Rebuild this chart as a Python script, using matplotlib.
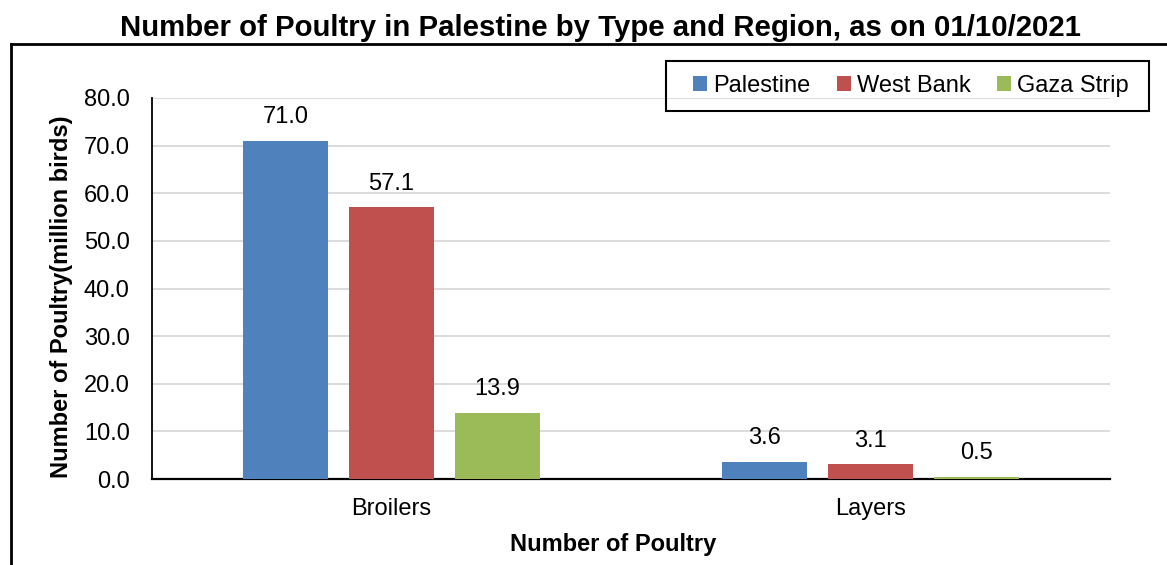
import numpy as np
import matplotlib.pyplot as plt
from matplotlib.lines import Line2D
from matplotlib.patches import Rectangle

categories = ["Broilers", "Layers"]
regions = ["Palestine", "West Bank", "Gaza Strip"]
palestine = [71.0, 3.6]
west_bank = [57.1, 3.1]
gaza_strip = [13.9, 0.5]
colors = ["#4F81BD", "#C0504D", "#9BBB59"]

plt.rcParams["font.family"] = ["Liberation Sans", "DejaVu Sans"]
FS = 17
W, H = 1167, 565

fig = plt.figure(figsize=(W / 100, H / 100), dpi=100)
ax = fig.add_axes([152 / W, 1 - 479 / H, 958 / W, 381 / H])

x = np.arange(len(categories))
width = 0.177
step = 0.221
for i, (vals, name) in enumerate(zip([palestine, west_bank, gaza_strip], regions)):
    bars = ax.bar(x + (i - 1) * step, vals, width, color=colors[i], label=name, zorder=3)
    for b, v in zip(bars, vals):
        ax.annotate(f"{v:.1f}", (b.get_x() + b.get_width() / 2, v), xytext=(0, 9),
                    textcoords="offset points", ha="center", va="bottom", fontsize=FS)

ax.set_xlim(-0.5, 1.5)
ax.set_ylim(0, 80)
ax.set_yticks(np.arange(0, 81, 10))
ax.set_yticklabels([f"{t:.1f}" for t in np.arange(0, 81, 10)], fontsize=FS)
ax.set_xticks(x)
ax.set_xticklabels(categories, fontsize=FS)
ax.tick_params(axis="y", length=0, pad=16)
ax.tick_params(axis="x", length=0, pad=14)
ax.grid(axis="y", color="#D9D9D9", linewidth=1.3, zorder=0)
for s in ["top", "right"]:
    ax.spines[s].set_visible(False)
ax.spines["left"].set_linewidth(1.3)
ax.spines["bottom"].set_linewidth(1.6)

ax.set_ylabel("Number of Poultry(million birds)", fontsize=FS, fontweight="bold",
              ha="center", va="center")
ax.yaxis.set_label_coords((62 - 152) / 958, (479 - 297) / 381)
ax.set_xlabel("Number of Poultry", fontsize=FS, fontweight="bold", ha="center", va="center")
ax.xaxis.set_label_coords((613 - 152) / 958, -(545 - 479) / 381)

# legend entries without their own frame, boxed separately
leg = fig.legend(loc="center left", bbox_to_anchor=(693 / W, 1 - 86 / H), ncol=3,
                 fontsize=FS, frameon=False, handlelength=0.6, handleheight=0.6,
                 handletextpad=0.25, columnspacing=1.12, borderpad=0, borderaxespad=0)
fig.add_artist(Rectangle((666 / W, 1 - 111 / H), (1149 - 666) / W, 50 / H, fill=False,
                         edgecolor="black", linewidth=1.5, transform=fig.transFigure))

fig.text(600 / W, 1 - 28 / H,
         "Number of Poultry in Palestine by Type and Region, as on 01/10/2021",
         fontsize=21.2, fontweight="bold", ha="center", va="center")

# outer chart border (left and top edges)
fig.add_artist(Line2D([11 / W, 11 / W], [0, 1 - 44 / H], color="black", linewidth=2,
                      transform=fig.transFigure))
fig.add_artist(Line2D([11 / W, 1], [1 - 44 / H, 1 - 44 / H], color="black", linewidth=2,
                      transform=fig.transFigure))

fig.savefig("out.png", dpi=100)
